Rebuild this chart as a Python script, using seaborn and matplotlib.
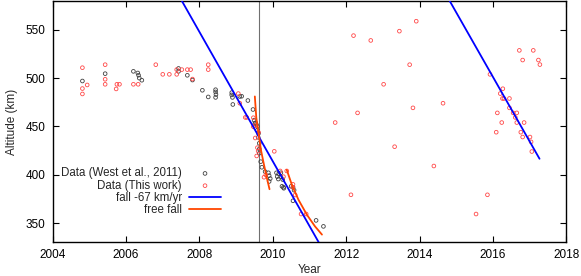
import matplotlib
matplotlib.use("Agg")
import matplotlib.pyplot as plt
import pandas as pd
import seaborn as sns

# data
west_year = [2004.81, 2005.43, 2006.20, 2006.32, 2006.34, 2006.36, 2006.43,
             2007.43, 2007.43, 2007.67, 2007.81, 2008.08, 2008.24, 2008.44,
             2008.44, 2008.45, 2008.44, 2008.88, 2008.88, 2008.90, 2008.91,
             2009.10, 2009.15, 2009.32, 2009.46, 2009.49, 2009.51, 2009.53,
             2009.55, 2009.58, 2009.58, 2009.61, 2009.60, 2009.63, 2009.63,
             2009.63, 2009.67, 2009.70, 2009.79, 2009.88, 2009.90, 2009.93,
             2009.90, 2010.10, 2010.16, 2010.22, 2010.12, 2010.15, 2010.22,
             2010.27, 2010.29, 2010.25, 2010.30, 2010.50, 2010.55, 2010.58,
             2010.55, 2011.18, 2011.38]
west_alt = [497.0, 504.6, 507.0, 505.3, 503.0, 500.0, 497.8,
            510.0, 507.0, 502.9, 498.0, 487.4, 480.5, 488.0,
            485.7, 483.0, 480.0, 485.0, 482.6, 480.0, 472.7,
            481.0, 481.2, 476.8, 467.5, 456.5, 453.0, 453.7,
            452.0, 450.0, 446.0, 442.8, 438.7, 432.5, 426.6,
            422.2, 413.5, 407.7, 403.2, 402.0, 399.0, 396.0,
            393.0, 402.0, 401.0, 402.0, 398.0, 395.5, 398.0,
            395.0, 387.0, 388.0, 386.0, 388.0, 387.0, 384.0,
            373.0, 352.7, 346.5]

work_year = [2004.81, 2004.81, 2004.81, 2004.94, 2005.43, 2005.43, 2005.43,
             2005.73, 2005.75, 2005.82, 2006.20, 2006.33, 2006.81, 2007.00,
             2007.18, 2007.38, 2007.38, 2007.52, 2007.67, 2007.76, 2007.81,
             2008.24, 2008.24, 2009.06, 2009.10, 2009.25, 2009.29, 2009.47,
             2009.47, 2009.52, 2009.61, 2009.52, 2009.58, 2009.60, 2009.56,
             2010.04, 2009.81, 2009.76, 2010.20, 2010.38, 2010.29, 2010.55,
             2010.55, 2010.61, 2010.77, 2010.91, 2011.70, 2012.13, 2012.20,
             2012.31, 2012.67, 2013.02, 2013.32, 2013.45, 2013.73, 2013.82,
             2013.91, 2014.39, 2014.64, 2015.54, 2015.85, 2015.92, 2016.09,
             2016.12, 2016.20, 2016.24, 2016.26, 2016.27, 2016.30, 2016.45,
             2016.45, 2016.55, 2016.61, 2016.65, 2016.65, 2016.72, 2016.76,
             2016.81, 2016.81, 2016.85, 2017.01, 2017.04, 2017.06, 2017.10,
             2017.24, 2017.28]
work_alt = [510.8, 489.2, 483.6, 492.9, 513.9, 498.8, 493.6,
            488.8, 493.6, 493.6, 493.6, 493.6, 513.9, 503.9,
            503.9, 503.9, 508.8, 508.8, 508.8, 508.8, 499.0,
            513.9, 508.8, 484.0, 474.0, 459.3, 459.3, 459.0,
            449.7, 451.0, 443.8, 438.0, 428.0, 424.5, 419.4,
            424.2, 399.8, 397.4, 403.9, 403.9, 398.0, 390.0,
            387.0, 379.0, 359.3, 359.3, 454.0, 379.2, 544.0,
            464.0, 539.0, 493.6, 429.0, 548.6, 513.9, 469.2,
            558.9, 409.0, 474.0, 359.3, 379.2, 503.9, 444.0,
            464.0, 484.0, 454.0, 478.9, 489.0, 478.9, 478.9,
            469.2, 464.0, 459.3, 464.0, 454.0, 528.7, 444.0,
            518.7, 439.0, 454.0, 439.0, 434.0, 424.0, 528.7,
            518.7, 514.0]

# linear fall of -67 km/yr (two segments)
fall1_year = [2007.40, 2011.35]
fall1_alt = [588.0, 323.4]
fall2_year = [2014.70, 2017.27]
fall2_alt = [588.0, 416.5]

# free fall curves
ff1_year = [2009.51, 2009.55, 2009.61, 2009.68, 2009.75, 2009.83, 2009.91]
ff1_alt = [481.0, 459.0, 443.0, 425.0, 412.0, 398.0, 385.0]
ff2_year = [2010.38, 2010.52, 2010.70, 2010.93, 2011.15, 2011.34]
ff2_alt = [405.0, 389.5, 374.0, 358.5, 346.5, 338.0]

event_year = 2009.63

sns.set_style("ticks")
plt.rcParams['font.family'] = ['Liberation Sans', 'DejaVu Sans']
plt.rcParams['font.size'] = 8.5

fig = plt.figure(figsize=(5.81, 2.76), dpi=100)
ax = fig.add_axes([0.0907, 0.122, 0.884, 0.875])

ax.axvline(event_year, color='#707070', lw=0.8, zorder=1)

west = pd.DataFrame({'year': west_year, 'alt': west_alt})
work = pd.DataFrame({'year': work_year, 'alt': work_alt})

sns.scatterplot(data=west, x='year', y='alt', ax=ax, marker='o', s=7,
                facecolors='none', edgecolor='#404040', linewidth=0.6,
                label='Data (West et al., 2011)', zorder=3)
sns.scatterplot(data=work, x='year', y='alt', ax=ax, marker='o', s=7,
                facecolors='none', edgecolor='#ff4848', linewidth=0.6,
                label='Data (This work)', zorder=3)

f1 = pd.DataFrame({'year': fall1_year, 'alt': fall1_alt})
f2 = pd.DataFrame({'year': fall2_year, 'alt': fall2_alt})
sns.lineplot(data=f1, x='year', y='alt', ax=ax, color='#0000ff', lw=1.3,
             sort=False, estimator=None, label='fall -67 km/yr', zorder=4)
sns.lineplot(data=f2, x='year', y='alt', ax=ax, color='#0000ff', lw=1.3,
             sort=False, estimator=None, zorder=4)

g1 = pd.DataFrame({'year': ff1_year, 'alt': ff1_alt})
g2 = pd.DataFrame({'year': ff2_year, 'alt': ff2_alt})
sns.lineplot(data=g1, x='year', y='alt', ax=ax, color='#ff4500', lw=1.3,
             sort=False, estimator=None, label='free fall', zorder=4)
sns.lineplot(data=g2, x='year', y='alt', ax=ax, color='#ff4500', lw=1.3,
             sort=False, estimator=None, zorder=4)

ax.set_xlim(2004, 2018)
ax.set_ylim(330, 580)
ax.set_xticks(range(2004, 2019, 2))
ax.set_yticks(range(350, 551, 50))
ax.tick_params(direction='in', top=True, right=True, length=4, width=0.8,
               pad=5, labelsize=8.5, colors='black')
for s in ax.spines.values():
    s.set_linewidth(1.0)
    s.set_color('black')

ax.set_xlabel('Year', fontsize=8.5, labelpad=2)
ax.set_ylabel('Altitude (km)', fontsize=8.5, labelpad=6)

ax.legend(loc='upper right', bbox_to_anchor=(0.328, 0.31), frameon=False,
          markerfirst=False, handlelength=2.8, handletextpad=0.6,
          labelspacing=0.02, borderpad=0, borderaxespad=0, fontsize=8.3)

fig.savefig('out.png', dpi=100, facecolor='white')
